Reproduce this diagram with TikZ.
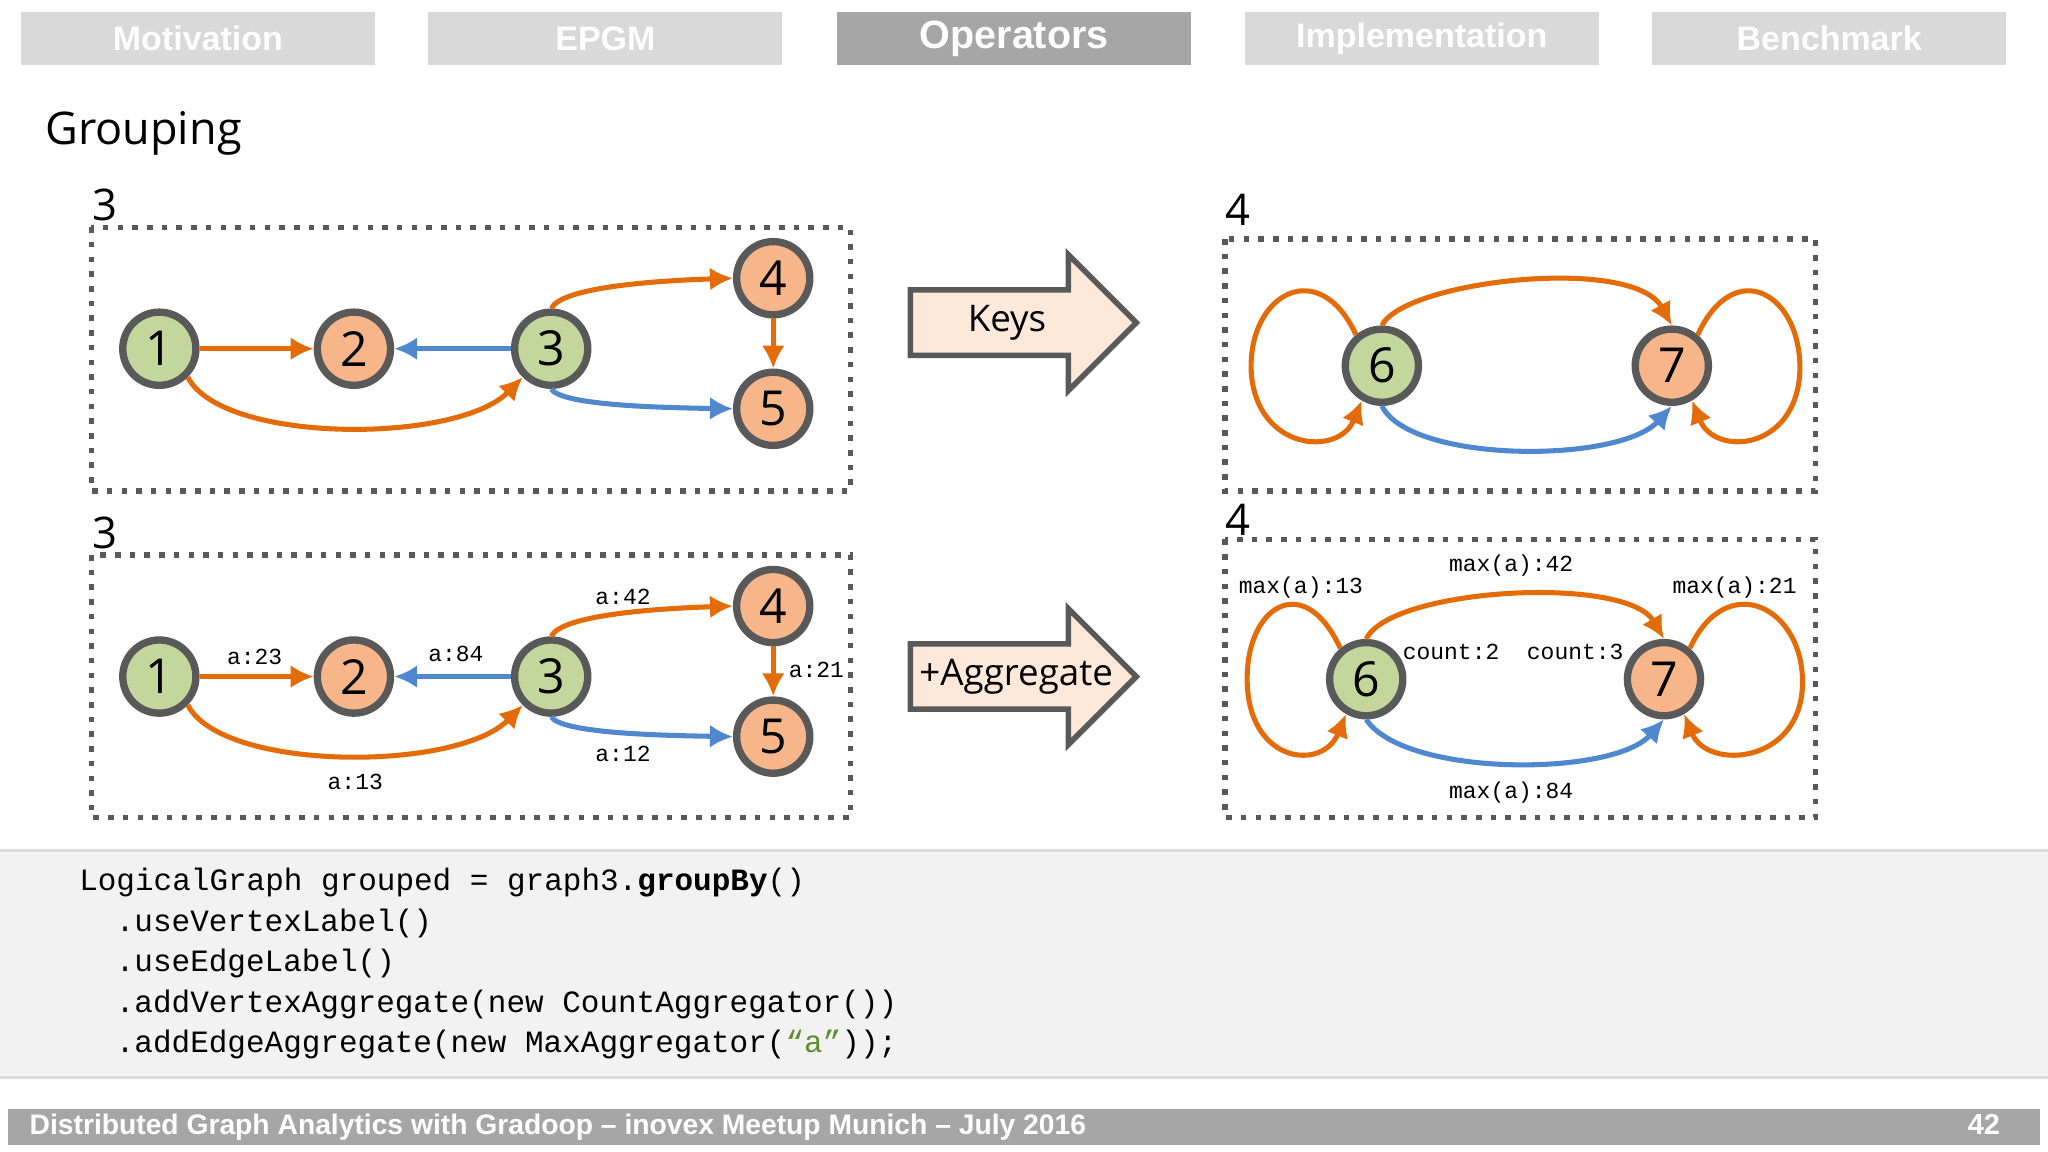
\documentclass[tikz,border=0pt]{standalone}
\usepackage{fontspec}
\setmainfont{Open Sans}
\newfontfamily\hdr{Liberation Sans}
\newfontfamily\mono{Liberation Mono}
\usetikzlibrary{arrows.meta}
\definecolor{gfill}{HTML}{C3D69B}
\definecolor{ofill}{HTML}{F6B68A}
\definecolor{oedge}{HTML}{E36C09}
\definecolor{bedge}{HTML}{4F88CF}
\definecolor{bord}{HTML}{595959}
\definecolor{tabg}{HTML}{D9D9D9}
\definecolor{taba}{HTML}{A6A6A6}
\definecolor{afill}{HTML}{FCE9DA}
\definecolor{codebg}{HTML}{F2F2F2}
\definecolor{strg}{HTML}{5E8E2E}
\tikzset{
 v/.style={circle,draw=bord,line width=1.6pt,minimum size=0.56cm,inner sep=0pt,font=\fontsize{10.5}{12}\selectfont},
 g/.style={v,fill=gfill}, o/.style={v,fill=ofill},
 oe/.style={draw=oedge,line width=1.1pt,-{Latex[length=5pt,width=5pt]}},
 be/.style={draw=bedge,line width=1.1pt,-{Latex[length=5pt,width=5pt]}},
 frame/.style={draw=bord,dotted,line width=1.2pt},
 tab/.style={fill=tabg,minimum width=2.71cm,minimum height=0.41cm,inner sep=0pt,text=white,font=\hdr\bfseries\fontsize{7.4}{9}\selectfont},
 lab/.style={font=\mono\fontsize{5}{6}\selectfont,inner sep=1pt},
 num/.style={font=\fontsize{9.5}{11}\selectfont},
 code/.style={anchor=west,font=\mono\fontsize{6.75}{8}\selectfont,inner sep=0pt},
 arrowshape/.style={draw=bord,line width=1.2pt,fill=afill,line join=miter},
 arrowtext/.style={font=\fontsize{8}{10}\selectfont,inner sep=0pt}
}
\begin{document}
\begin{tikzpicture}[x=0.01cm,y=-0.01cm]
\useasboundingbox[fill=white] (0,0) rectangle (1568,882);
% tabs
\node[tab] (t1) at (151.5,29.5) {Motivation};
\node[tab] (t2) at (463.5,29.5) {EPGM};
\node[tab,fill=taba,font=\hdr\bfseries\fontsize{8.6}{10}\selectfont] (t3) at (776.5,29.5) {Operators};
\node[tab] (t4) at (1088.5,29.5) {Implementation};
\node[tab] (t5) at (1400.5,29.5) {Benchmark};
\node[anchor=west,font=\fontsize{9.8}{12}\selectfont,inner sep=0pt] (title) at (34,102) {Grouping};
% frames
\draw[frame] (70,174) rectangle (651,376);
\draw[frame] (70,425) rectangle (651,626);
\draw[frame] (938,183) rectangle (1390,376);
\draw[frame] (938,413) rectangle (1390,626);
\node[num] (c1) at (80,157) {3};
\node[num] (c2) at (80,408) {3};
\node[num] (c3) at (948,161) {4};
\node[num] (c4) at (948,398) {4};
% top-left graph
\node[g] (a1) at (122,267) {1};
\node[o] (a2) at (271,267) {2};
\node[g] (a3) at (422,267) {3};
\node[o] (a4) at (592,213) {4};
\node[o] (a5) at (592,313) {5};
\draw[oe] (a1) -- (a2);
\draw[be] (a3) -- (a2);
\draw[oe] (a3.north) .. controls (430,220) and (500,215) .. (a4.west);
\draw[oe] (a4) -- (a5);
\draw[be] (a3.south) .. controls (430,310) and (500,312) .. (a5.west);
\draw[oe] (a1.south east) .. controls (170,340) and (350,340) .. (a3.south west);
% bottom-left graph
\node[g] (b1) at (122,518) {1};
\node[o] (b2) at (271,518) {2};
\node[g] (b3) at (422,518) {3};
\node[o] (b4) at (592,464) {4};
\node[o] (b5) at (592,564) {5};
\draw[oe] (b1) -- (b2);
\draw[be] (b3) -- (b2);
\draw[oe] (b3.north) .. controls (430,471) and (500,466) .. (b4.west);
\draw[oe] (b4) -- (b5);
\draw[be] (b3.south) .. controls (430,561) and (500,563) .. (b5.west);
\draw[oe] (b1.south east) .. controls (170,591) and (350,591) .. (b3.south west);
\node[lab] (l1) at (195,503) {a:23};
\node[lab] (l2) at (349,501) {a:84};
\node[lab] (l3) at (477,457) {a:42};
\node[lab] (l4) at (625,513) {a:21};
\node[lab] (l5) at (477,577) {a:12};
\node[lab] (l6) at (272,599) {a:13};
% block arrows
\draw[arrowshape] (697,222) -- (818,222) -- (818,195) -- (870,247) -- (818,299) -- (818,272) -- (697,272) -- cycle;
\node[arrowtext] (k1) at (771,247) {Keys};
\draw[arrowshape] (697,493) -- (818,493) -- (818,466) -- (870,518) -- (818,570) -- (818,543) -- (697,543) -- cycle;
\node[arrowtext] (k2) at (778,518) {+Aggregate};
% top-right graph
\node[g] (r6) at (1058,280) {6};
\node[o] (r7) at (1280,280) {7};
\draw[oe] (r6.north) .. controls (1075,215) and (1250,195) .. (r7.north);
\draw[be] (r6.south) .. controls (1080,355) and (1240,355) .. (r7.south);
\draw[oe] (r6.130) .. controls (1010,195) and (955,225) .. (958,285) .. controls (962,345) and (1025,350) .. (r6.240);
\draw[oe] (r7.50) .. controls (1328,195) and (1380,225) .. (1378,285) .. controls (1375,345) and (1313,350) .. (r7.300);
% bottom-right graph
\node[g] (s6) at (1046,520) {6};
\node[o] (s7) at (1274,520) {7};
\draw[oe] (s6.north) .. controls (1065,450) and (1245,440) .. (s7.north);
\draw[be] (s6.south) .. controls (1075,595) and (1235,595) .. (s7.south);
\draw[oe] (s6.130) .. controls (998,435) and (952,465) .. (955,525) .. controls (958,585) and (1013,590) .. (s6.240);
\draw[oe] (s7.50) .. controls (1322,435) and (1382,465) .. (1380,525) .. controls (1378,585) and (1307,590) .. (s7.300);
\node[lab] (m1) at (996,450) {max(a):13};
\node[lab] (m2) at (1157,433) {max(a):42};
\node[lab] (m3) at (1328,450) {max(a):21};
\node[lab] (m4) at (1111,499) {count:2};
\node[lab] (m5) at (1206,499) {count:3};
\node[lab] (m6) at (1157,607) {max(a):84};
% code area
\fill[codebg] (0,651) rectangle (1568,825);
\draw[tabg,line width=0.6pt] (0,651) -- (1568,651) (0,825) -- (1568,825);
\node[code] (k01) at (60,676) {LogicalGraph grouped = graph3.\textbf{groupBy}()};
\node[code] (k02) at (88,707) {.useVertexLabel()};
\node[code] (k03) at (88,738) {.useEdgeLabel()};
\node[code] (k04) at (88,769) {.addVertexAggregate(new CountAggregator())};
\node[code] (k05) at (88,800) {.addEdgeAggregate(new MaxAggregator(\textcolor{strg}{“a”}));};
% footer
\fill[taba] (6,849) rectangle (1562,877);
\node[anchor=west,text=white,font=\hdr\bfseries\fontsize{6.15}{8}\selectfont,inner sep=0pt] (ft) at (22,863) {Distributed Graph Analytics with Gradoop – inovex Meetup Munich – July 2016};
\node[anchor=east,text=white,font=\hdr\bfseries\fontsize{6.3}{8}\selectfont,inner sep=0pt] (pg) at (1532,861) {42};
\end{tikzpicture}
\end{document}
